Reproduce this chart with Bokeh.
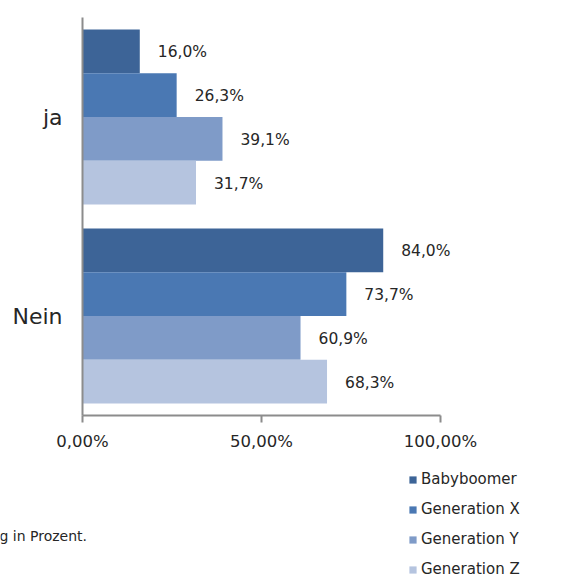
from bokeh.plotting import figure
from bokeh.models import (FactorRange, Range1d, Legend, LegendItem, Label,
                          FixedTicker, ColumnDataSource, LabelSet)
from bokeh.layouts import column
from bokeh.transform import dodge
from bokeh.core.properties import value
from bokeh.embed import file_html
from bokeh.resources import INLINE

categories = ["Nein", "ja"]
series = ["Babyboomer", "Generation X", "Generation Y", "Generation Z"]
ja_values = [16.0, 26.3, 39.1, 31.7]
nein_values = [84.0, 73.7, 60.9, 68.3]
colors = ["#3D6497", "#4A78B3", "#7F9BC8", "#B5C4DF"]
x_ticks = [0, 50, 100]
x_tick_labels = ["0,00%", "50,00%", "100,00%"]
footnote = "g in Prozent."

FONT = "DejaVu Sans"
TXT = "#262626"
AXC = "#8C8C8C"

p = figure(width=580, height=460,
           y_range=FactorRange(*categories, range_padding=0),
           x_range=Range1d(0, 139.1),
           output_backend="svg", toolbar_location=None,
           min_border_left=82, min_border_right=0,
           min_border_top=17, min_border_bottom=45)
p.outline_line_color = None
p.xgrid.visible = False
p.ygrid.visible = False
p.frame_align = False

offsets = [0.33, 0.11, -0.11, -0.33]
for i, s in enumerate(series):
    vals = [nein_values[i], ja_values[i]]
    src = ColumnDataSource(dict(cat=categories, val=vals,
                                txt=[("%.1f%%" % v).replace(".", ",") for v in vals]))
    yy = dodge("cat", offsets[i], range=p.y_range)
    p.hbar(y=yy, right="val", left=0, height=0.22, source=src,
           fill_color=colors[i], line_color=None)
    p.add_layout(LabelSet(x="val", y=yy, text="txt", source=src, x_offset=18, y_offset=-1,
                          text_baseline="middle", text_font=value(FONT),
                          text_font_size="15.5px", text_color=TXT))

yax = p.yaxis[0]
yax.major_tick_line_color = None
yax.major_tick_out = 0
yax.major_tick_in = 0
yax.minor_tick_line_color = None
yax.axis_line_color = AXC
yax.axis_line_width = 2
yax.major_label_standoff = 20
yax.major_label_text_font = FONT
yax.major_label_text_font_size = "22px"
yax.major_label_text_color = TXT

xax = p.xaxis[0]
xax.bounds = (0, 100)
xax.ticker = FixedTicker(ticks=x_ticks)
xax.major_label_overrides = {t: l for t, l in zip(x_ticks, x_tick_labels)}
xax.minor_tick_line_color = None
xax.major_tick_in = 0
xax.major_tick_out = 7
xax.major_tick_line_color = AXC
xax.major_tick_line_width = 2
xax.axis_line_color = AXC
xax.axis_line_width = 2
xax.major_label_standoff = 9
xax.major_label_text_font = FONT
xax.major_label_text_font_size = "16.5px"
xax.major_label_text_color = TXT

# lower panel: legend and footnote
p2 = figure(width=580, height=119, x_range=Range1d(0, 580), y_range=Range1d(0, 119),
            x_axis_type=None, y_axis_type=None,
            output_backend="svg", toolbar_location=None,
            min_border_left=0, min_border_right=0, min_border_top=0, min_border_bottom=0)
p2.outline_line_color = None
p2.frame_align = False
items = []
for s, c in zip(series, colors):
    r = p2.hbar(y=[-1000], right=[1], left=[0], height=1, fill_color=c, line_color=None)
    items.append(LegendItem(label=s, renderers=[r]))
legend = Legend(items=items, location=(408, 1), orientation="vertical")
legend.padding = 0
legend.margin = 0
legend.border_line_color = None
legend.background_fill_alpha = 0
legend.glyph_width = 9
legend.glyph_height = 9
legend.label_standoff = 4
legend.label_height = 12
legend.spacing = 12
legend.label_text_font = FONT
legend.label_text_font_size = "15px"
legend.label_text_color = TXT
p2.add_layout(legend, "center")

p2.add_layout(Label(x=-1, y=44, x_units="screen", y_units="screen", text=footnote,
                    text_baseline="middle", text_font=FONT, text_font_size="14px",
                    text_color=TXT))

open("out.html", "w").write(file_html(column(p, p2, spacing=0), INLINE))
